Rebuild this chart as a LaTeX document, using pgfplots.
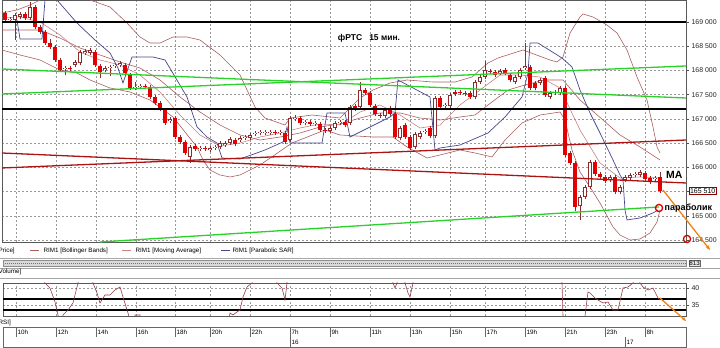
\documentclass[border=0pt]{standalone}
\usepackage{fontspec}
\setmainfont{Liberation Sans}
\usepackage{pgfplots}
\pgfplotsset{compat=1.18}
\usepackage{pgfplotstable}
\usetikzlibrary{arrows.meta}
\definecolor{bbcol}{RGB}{170,95,95}
\definecolor{macol}{RGB}{200,130,130}
\definecolor{sarcol}{RGB}{70,70,140}
\definecolor{wickcol}{RGB}{140,45,45}
\definecolor{bearcol}{RGB}{228,0,0}
\definecolor{trgreen}{RGB}{40,210,40}
\definecolor{trred}{RGB}{170,20,20}
\definecolor{orcol}{RGB}{240,130,20}
\definecolor{rsicol}{RGB}{150,60,70}
\newcommand{\tf}{\fontsize{6.3}{7.5}\selectfont}

\pgfplotstableread{
k o h l c
1 169186 169236 168991 169041
5 169165 169215 169033 169083
7 169310 169360 168847 168897
8 168897 168947 168744 168794
9 168794 168844 168517 168567
10 168567 168650 168434 168484
11 168484 168534 168166 168216
12 168216 168266 167959 168009
14 168050 168100 167980 168030
19 168381 168431 168062 168112
20 168092 168142 167844 167968
25 168112 168162 167897 167947
26 167906 167956 167588 167638
29 167679 167729 167608 167658
30 167658 167708 167402 167452
31 167452 167502 167278 167328
32 167328 167378 167154 167204
33 167184 167234 166865 166915
35 167018 167068 166576 166626
36 166626 166676 166473 166523
37 166523 166573 166246 166296
39 166441 166491 166329 166379
41 166399 166449 166329 166379
47 166564 166614 166432 166482
55 166730 166780 166659 166709
57 166709 166759 166473 166523
60 167018 167068 166865 166915
62 166936 166986 166845 166895
64 166895 166945 166721 166771
65 166771 166821 166700 166750
69 166936 166986 166824 166874
71 167266 167316 167154 167204
73 167596 167646 167484 167534
74 167534 167584 167237 167287
75 167266 167316 167051 167101
76 167080 167130 167010 167060
78 167225 167275 167051 167101
79 167101 167151 166576 166626
81 166874 166924 166576 166626
82 166626 166676 166349 166399
86 166812 166862 166597 166647
88 167431 167481 167196 167246
91 167555 167605 167464 167514
92 167555 167605 167484 167534
93 167534 167584 167464 167514
94 167534 167584 167402 167452
98 167989 168039 167918 167968
99 167968 168018 167856 167906
101 168009 168059 167897 167947
102 167906 167956 167753 167803
106 168071 168121 167588 167638
107 167741 167791 167588 167638
109 167844 167894 167443 167493
113 167638 167688 166205 166255
114 166296 166346 166040 166090
115 166090 166140 165100 165182
119 166110 166160 165813 165863
120 165863 165913 165751 165801
121 165801 165851 165668 165718
123 165801 165851 165441 165491
129 165883 165933 165710 165760
130 165780 165830 165648 165698
132 165801 165900 165462 165512
}\bears

\pgfplotstableread{
k o h l c
2 169041 169112 168991 169062
3 169041 169194 168630 169144
4 169103 169215 169053 169165
6 169083 169413 169033 169310
13 168030 168100 167900 168050
15 168112 168224 168062 168174
16 168154 168431 168104 168381
17 168360 168451 168310 168401
18 168360 168472 168310 168422
21 168009 168100 167959 168050
22 168050 168121 167880 168071
23 168092 168162 168042 168112
24 168112 168204 168062 168154
27 167638 167760 167588 167658
28 167658 167729 167608 167679
34 166957 167048 166907 166998
38 166214 166470 166090 166420
40 166379 166449 166329 166399
42 166358 166449 166308 166399
43 166399 166470 166349 166420
44 166420 166552 166370 166502
45 166461 166552 166411 166502
46 166502 166635 166452 166585
48 166564 166656 166514 166606
49 166606 166676 166556 166626
50 166606 166718 166556 166668
51 166688 166759 166638 166709
52 166709 166780 166659 166730
53 166709 166780 166659 166730
54 166709 166780 166659 166730
56 166709 166780 166659 166730
58 166564 167068 166514 167018
59 166998 167080 166948 167018
61 166915 166986 166865 166936
63 166895 166965 166845 166915
66 166750 166862 166700 166812
67 166812 166965 166762 166915
68 166915 166986 166865 166936
70 166915 167296 166865 167246
72 167246 167761 167196 167596
77 167060 167234 167010 167184
80 166606 166862 166556 166812
83 166420 166738 166370 166688
84 166626 166759 166576 166709
85 166730 166800 166680 166750
87 166647 167481 166597 167431
89 167266 167337 167216 167287
90 167266 167543 167216 167493
95 167452 167811 167402 167761
96 167761 167915 167711 167865
97 167865 168200 167815 168009
100 167947 168039 167897 167989
103 167761 167915 167711 167865
104 167865 168059 167815 168009
105 168050 168566 168000 168092
108 167741 167853 167691 167803
110 167452 167584 167402 167534
111 167534 167605 167484 167555
112 167534 167688 167484 167638
116 165202 165438 164914 165388
117 165388 165644 165338 165594
118 165594 166160 165544 166110
122 165739 165851 165689 165801
124 165491 165644 165441 165594
125 165739 165851 165689 165801
126 165780 165892 165730 165842
127 165842 165913 165792 165863
128 165842 165954 165792 165904
131 165760 165830 165710 165780
}\bulls

\begin{document}
\begin{tikzpicture}
\path[use as bounding box] (0,0) rectangle (720bp,348bp);

% ---------------- main price panel ----------------
\begin{axis}[
  name=main, at={(2bp,106bp)}, anchor=south west,
  width=684bp, height=242bp, scale only axis,
  xmin=0.4, xmax=137.2, ymin=164459, ymax=169454,
  clip=false,
  axis line style={draw=black!65, line width=0.6bp},
  xtick={3.2,11.2,19.2,27.2,35,42,50,58,66,74,82,90,97,105,113,121,129},
  xticklabels={}, xtick style={draw=none},
  ytick={164500,165000,...,169000},
  yticklabels={164 500,165 000,{},166 000,166 500,167 000,167 500,168 000,168 500,169 000},
  ytick pos=right, yticklabel pos=right,
  tick align=outside, major tick length=3bp,
  ytick style={draw=black!70, line width=0.5bp},
  xmajorgrids, ymajorgrids,
  grid style={draw=black!40, line width=0.5bp, dash pattern=on 2bp off 2bp},
  yticklabel style={font=\fontsize{7}{8}\selectfont, text=black!85, xshift=-1bp},
  scaled y ticks=false,
]
% Bollinger bands
\addplot[bbcol, line width=0.6bp] coordinates {(0.4,169186)(3.4,169248)(6,169351)(8,169454)};
\addplot[bbcol, line width=0.6bp] coordinates {(18,169454)(22,169310)(25.4,168979)(28,168690)(30,168566)(32,168566)(34.6,168690)(37.4,168690)(40,168628)(44,168319)(48,167906)(51,167246)(53,167018)(57,166874)(58,167018)(62.4,167080)(68,167018)(72,167431)(74.6,167596)(78,167741)(81.4,167803)(86.6,167761)(91,167761)(94.4,167865)(97.6,168154)(99.6,168257)(104.6,168422)(110,168216)(111.4,168174)(112.6,168278)(114,168773)(116,169103)(116.6,169165)(118.6,169103)(121.4,168938)(123.4,168773)(125.4,168422)(127.4,167865)(129.4,167390)(130.6,166833)(131.4,166420)(132,166296)};
\addplot[bbcol, line width=0.6bp] coordinates {(0.4,168422)(4,168319)(8,168216)(12,168009)(15.4,167947)(18,167803)(22,167638)(26,167555)(30,167390)(34.6,167039)(39.4,166420)(40.6,166152)(42,165945)(44,165842)(46,165801)(48,165842)(52,166048)(58.4,166502)(65,166771)(68,166668)(74.6,166626)(78.6,166626)(81.4,166420)(85.4,166193)(88,166255)(92,166358)(95,166296)(98.4,166214)(101,166564)(104.4,166915)(108,167080)(112,167142)(113,166977)(114.4,166358)(116,165904)(118,165594)(120,165264)(122.6,164769)(124,164603)(126,164500)(128,164521)(130,164645)(131.4,164872)(132,165120)};
\addplot[bbcol, line width=0.6bp] coordinates {(0.4,168835)(8,168835)(12,168670)(16,168463)(20,168319)(24,168174)(28,168050)(32,167803)(36,167452)(40,167142)(44,166874)(48,166668)(52,166564)(56,166626)(60,166709)(64,166833)(68,166895)(72,167018)(76,167122)(80,167122)(84,167018)(88,166977)(92,167039)(95,167080)(97.6,167287)(101.6,167596)(105,167700)(109,167803)(112.6,167803)(116,167390)(120.6,166977)(124,166668)(128,166420)(132,166152)};
% Moving average
\addplot[macol, line width=0.6bp] coordinates {(0.4,169083)(4,169103)(8,169000)(12,168732)(16,168381)(20,168216)(24,168112)(28,167906)(32,167555)(36,167080)(40,166668)(44,166441)(48,166502)(52,166626)(56,166709)(60,166812)(64,166895)(68,166874)(72,167142)(76,167287)(80,167080)(84,166812)(88,166874)(92,167287)(96,167596)(100,167906)(104,167906)(108,167865)(112,167638)(116,166771)(120,166090)(124,165780)(128,165801)(132,165780)};
% Parabolic SAR
\addplot[sarcol, line width=0.7bp] coordinates {(3.4,169041)(4,168649)(8.4,168649)(9,169454)};
\addplot[sarcol, line width=0.7bp] coordinates {(11.4,169454)(15.4,168979)(19,168628)(22,168360)(23.6,168050)(24.6,167741)(26.4,168278)(30.6,168278)(33,168216)(37.4,167452)(39.4,166833)(41.4,166626)(43.4,166502)(44.4,166193)(48,166172)(53,166358)(56.6,166523)(57.4,166833)(58,166502)(64.4,166502)(65.4,167122)(69,167122)(70,166626)(78,167039)(79,167122)(79.6,167803)(86,167452)(87,166358)(88,166399)(92,166461)(97.6,166709)(101,167039)(104.4,167452)(105.6,167947)(106,168566)(107.6,168566)(112.4,168257)(114.4,168071)(116,167596)(118,167122)(120,166709)(122.6,166152)(124,165842)(124.6,165739)(125,165120)(125.4,164914)(128,164955)(130.6,165058)(131.6,165120)};
% candles: wicks
\addplot[draw=none, mark=none, forget plot, error bars/.cd, y dir=plus, y explicit, error mark=none,
  error bar style={draw=wickcol, line width=0.8bp}]
  table[x=k, y=l, y error expr=\thisrow{h}-\thisrow{l}] {\bears};
\addplot[draw=none, mark=none, forget plot, error bars/.cd, y dir=plus, y explicit, error mark=none,
  error bar style={draw=wickcol, line width=0.8bp}]
  table[x=k, y=l, y error expr=\thisrow{h}-\thisrow{l}] {\bulls};
% bearish bodies
\addplot[draw=none, mark=none, forget plot, error bars/.cd, y dir=plus, y explicit, error mark=none,
  error bar style={draw=bearcol, line width=3.4bp}]
  table[x=k, y=c, y error expr=\thisrow{o}-\thisrow{c}] {\bears};
% bullish bodies (outline + white)
\addplot[draw=none, mark=none, forget plot, error bars/.cd, y dir=plus, y explicit, error mark=none,
  error bar style={draw=wickcol, line width=3.6bp}]
  table[x=k, y=o, y error expr=\thisrow{c}-\thisrow{o}] {\bulls};
\addplot[draw=none, mark=none, forget plot, error bars/.cd, y dir=plus, y explicit, error mark=none,
  error bar style={draw=white, line width=2.0bp}]
  table[x=k, y expr=\thisrow{o}+14, y error expr=\thisrow{c}-\thisrow{o}-28] {\bulls};
% trend lines
\addplot[black, line width=1.2bp] coordinates {(0.4,169000)(137.2,169000)};
\addplot[black, line width=1.2bp] coordinates {(0.4,167204)(137.2,167204)};
\addplot[trgreen, line width=1.3bp] coordinates {(0.4,168030)(137.2,167431)};
\addplot[trgreen, line width=1.3bp] coordinates {(0.4,167514)(137.2,168092)};
\addplot[trgreen, line width=1.3bp] coordinates {(20,164459)(131.8,165182)};
\addplot[trred, line width=1.3bp] coordinates {(0.4,166296)(137.2,165677)};
\addplot[trred, line width=1.3bp] coordinates {(0.4,165987)(137.2,166564)};
% annotations
\addplot[orcol, line width=1.3bp, -{Stealth[length=5bp,width=4bp]}] coordinates {(132.6,165532)(142,164294)};
\addplot[only marks, mark=o, mark size=3.6bp, mark options={draw=red!85!black, line width=1.3bp}] coordinates {(131.8,165161)(137.4,164521)};
\end{axis}

% ---------------- RSI panel ----------------
\begin{axis}[
  name=rsi, at={(3bp,32bp)}, anchor=south west,
  width=683bp, height=33bp, scale only axis,
  xmin=0.6, xmax=137.2, ymin=31.76, ymax=41.47,
  axis line style={draw=black!65, line width=0.6bp},
  xtick={3.2,11.2,19.2,27.2,35,42,50,58,66,74,82,90,97,105,113,121,129},
  xticklabels={}, xtick style={draw=none},
  ytick={35,40}, yticklabels={35,40},
  ytick pos=right, yticklabel pos=right,
  tick align=outside, major tick length=3bp,
  ytick style={draw=black!70, line width=0.5bp},
  xmajorgrids, ymajorgrids,
  grid style={draw=black!40, line width=0.5bp, dash pattern=on 2bp off 2bp},
  yticklabel style={font=\fontsize{7}{8}\selectfont, text=black!85, xshift=-1bp},
]
\addplot[black, line width=1.2bp] coordinates {(0.6,36.76)(137.2,36.76)};
\addplot[black, line width=1.2bp] coordinates {(0.6,33.53)(137.2,33.53)};
\addplot[rsicol, line width=0.6bp] coordinates {(0.6,48.2)(8,46.8)(9,41.47)(10,40)(11,35.88)(11.6,32.06)(12,29.12)(12.4,29.12)(12.6,32.06)(13.6,33.53)(14.6,35.59)(15.6,41.47)(16,45.3)(18,45.3)(18.6,41.47)(19.4,38.53)(20,35.59)(21,37.94)(22,37.94)(23,39.41)(24,40.29)(24.6,37.35)(25.6,32.65)(26.2,29.12)(26.8,29.12)(27,32.06)(28,32.06)(28.4,29.12)(45.6,29.12)(46,32.65)(46.6,32.06)(47.4,32.94)(48,33.53)(48.6,37.35)(49.4,40.29)(50.4,41.47)(51,45.3)(55,45.3)(55.4,41.47)(56.4,40)(57,36.47)(57.4,41.47)(57.8,45.3)(78.2,45.3)(78.6,41.47)(79,40)(79.4,41.47)(79.8,45.3)(80.6,45.3)(81,41.47)(81.6,38.53)(82,37.35)(82.6,41.47)(83,45.3)(112,45.3)(112.4,41.47)(112.6,31.76)(113,27.65)(116.6,27.65)(117,31.76)(117.6,38.82)(118,38.53)(119,37.06)(119.6,36.47)(120.6,35.59)(121.6,35.88)(122.6,33.53)(123.6,33.53)(124.6,40)(125.6,40.29)(126.6,41.47)(127.2,43.8)(127.6,43.8)(128,41.47)(128.6,40.29)(129.6,39.41)(130.6,40)(131.6,37.06)(132,36.47)};
\end{axis}

% ---------------- texts and frames ----------------
\begin{scope}[x=1bp, y=1bp]
\node[font=\fontsize{8.5}{10}\selectfont\bfseries] at (369,310) {фРТС\ \ \ 15 мин.};
\node[anchor=west, inner sep=0, font=\fontsize{10.5}{12}\selectfont\bfseries] at (666,173.5) {MA};
\node[anchor=west, inner sep=0, font=\fontsize{9}{10}\selectfont\bfseries] at (664.5,139.5) {параболик};
\node[anchor=west, draw=red!55!black, fill=white, inner sep=0.8bp, line width=0.6bp, font=\fontsize{7}{8}\selectfont] at (689,157) {165 510};
% legend row
\node[anchor=west, inner sep=0, font=\tf] at (-1.5,97) {Price]};
\draw[bbcol, line width=1.1bp] (30,97.3)--(39,97.3);
\node[anchor=west, inner sep=0, font=\tf] at (43.5,97) {RIM1 [Bollinger Bands]};
\draw[macol, line width=1.1bp] (122,97.3)--(131,97.3);
\node[anchor=west, inner sep=0, font=\tf] at (135.5,97) {RIM1 [Moving Average]};
\draw[sarcol, line width=1.1bp] (221,97.3)--(230,97.3);
\node[anchor=west, inner sep=0, font=\tf] at (232.5,97) {RIM1 [Parabolic SAR]};
% scroll bar row
\draw[black!35, line width=0.5bp] (0,90)--(720,90);
\fill[black!15] (3,82) rectangle (686,88);
\draw[black!55, line width=0.8bp, dash pattern=on 1bp off 1bp] (3,85)--(686,85);
\draw[black!45, line width=0.5bp] (3,82) rectangle (686,88);
\node[anchor=west, draw=black!60, fill=black!8, inner sep=0.6bp, font=\fontsize{6.3}{7}\selectfont] at (688.5,84.5) {813};
\draw[black!35, line width=0.5bp] (0,80)--(720,80);
\node[anchor=west, inner sep=0, font=\tf] at (-1.5,76) {Volume]};
\draw[black!35, line width=0.5bp] (0,70)--(720,70);
\node[anchor=west, inner sep=0, font=\tf] at (-1.5,25) {RSI]};
\draw[orcol, line width=1.3bp, -{Stealth[length=4bp,width=3.5bp]}] (660,50)--(686,27);
% time axis
\draw[black!60, line width=0.6bp] (3,1) rectangle (686,21);
\foreach \x/\t in {16/10h,56/12h,96/14h,136/16h,175/18h,210/20h,250/22h,290/7h,330/9h,370/11h,410/13h,450/15h,485/17h,525/19h,565/21h,605/23h,645/8h} {
  \draw[black!60, line width=0.6bp] (\x,21)--(\x,11);
  \node[anchor=west, inner sep=0, font=\tf] at (\x+1.5,15.8) {\t};
}
\draw[black!60, line width=0.6bp] (290,11)--(290,1);
\node[anchor=west, inner sep=0, font=\tf] at (291.5,6) {16};
\draw[black!60, line width=0.6bp] (625,11)--(625,1);
\node[anchor=west, inner sep=0, font=\tf] at (626.5,6) {17};
\end{scope}
\end{tikzpicture}
\end{document}
